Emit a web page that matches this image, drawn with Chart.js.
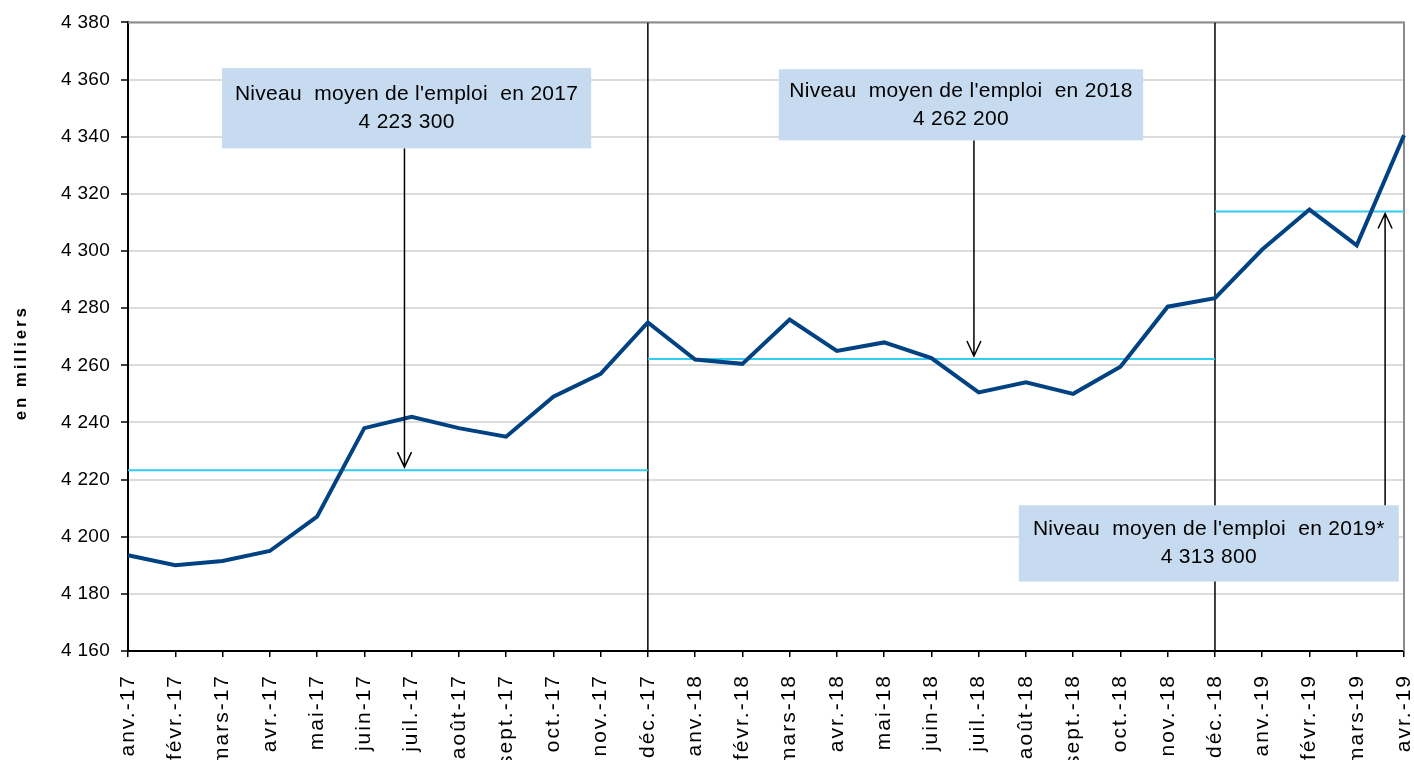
<!DOCTYPE html>
<html lang="fr">
<head>
<meta charset="utf-8">
<title>Niveau moyen de l'emploi</title>
<script src="https://cdn.jsdelivr.net/npm/chart.js@4.4.1/dist/chart.umd.min.js"></script>
<style>
    html, body { margin: 0; padding: 0; background: #fff; overflow: hidden; }
    #wrap { width: 1414px; height: 760px; }
</style>
</head>
<body>
<div id="wrap"><canvas id="emploiChart" width="1414" height="760"></canvas></div>
<script>
// Data
const months = [
    'janv.-17', 'févr.-17', 'mars-17', 'avr.-17', 'mai-17', 'juin-17', 'juil.-17',
    'août-17', 'sept.-17', 'oct.-17', 'nov.-17', 'déc.-17',
    'janv.-18', 'févr.-18', 'mars-18', 'avr.-18', 'mai-18', 'juin-18', 'juil.-18',
    'août-18', 'sept.-18', 'oct.-18', 'nov.-18', 'déc.-18',
    'janv.-19', 'févr.-19', 'mars-19', 'avr.-19'
];
const emploi = [
    4193.5, 4190, 4191.5, 4195, 4207, 4238, 4242, 4238, 4235, 4249, 4257, 4275,
    4262, 4260.5, 4276, 4265, 4268, 4262.5, 4250.5, 4254, 4250, 4259.5, 4280.5, 4283.5,
    4300.5, 4314.5, 4302, 4340.5
];
const averages = [4223.3, 4262.2, 4313.8];
const averageFrom = ['janv.-17', 'déc.-17', 'déc.-18'];
const averageTo = ['déc.-17', 'déc.-18', 'avr.-19'];
const averageTexts = [
    ["Niveau  moyen de l'emploi  en 2017", '4 223 300'],
    ["Niveau  moyen de l'emploi  en 2018", '4 262 200'],
    ["Niveau  moyen de l'emploi  en 2019*", '4 313 800']
];
const yearEnds = ['déc.-17', 'déc.-18'];
const yMin = 4160;
const yMax = 4380;
const yStep = 20;

// Label boxes (category index for x, axis value for y) and arrow column
const notes = [
    { left: 1.99, right: 9.8, top: 4364, bottom: 4335.9, arrowAt: 5.85 },
    { left: 13.77, right: 21.48, top: 4363.6, bottom: 4338.7, arrowAt: 17.9 },
    { left: 18.85, right: 26.89, top: 4211, bottom: 4184.3, arrowAt: 26.6 }
];

const FONT = '"Liberation Sans", Arial, sans-serif';

function averageData(k) {
    const a = months.indexOf(averageFrom[k]);
    const b = months.indexOf(averageTo[k]);
    return months.map((m, i) => (i >= a && i <= b ? averages[k] : null));
}

// Excel-like wide letter spacing on axis text
function withSpacing(scale, method, spacing, dy) {
    if (scale['_sp_' + method]) return;
    const orig = scale[method];
    scale[method] = function (...args) {
        const ctx = this.ctx;
        ctx.save();
        ctx.letterSpacing = spacing;
        if (dy) ctx.translate(0, dy);
        orig.apply(this, args);
        ctx.restore();
    };
    scale['_sp_' + method] = true;
}

const spacingPlugin = {
    id: 'spacing',
    beforeDraw(chart) {
        withSpacing(chart.scales.x, 'drawLabels', '2px');
        withSpacing(chart.scales.y, 'drawLabels', '0.3px');
        withSpacing(chart.scales.y, 'drawTitle', '2.8px', 26);
    }
};

const framePlugin = {
    id: 'frame',
    beforeDatasetsDraw(chart) {
        const { ctx, chartArea: a } = chart;
        ctx.save();
        ctx.strokeStyle = '#8c8c8c';
        ctx.lineWidth = 2;
        ctx.beginPath();
        ctx.moveTo(a.left, a.top);
        ctx.lineTo(a.right, a.top);
        ctx.lineTo(a.right, a.bottom);
        ctx.stroke();
        ctx.restore();
    }
};

function drawArrow(ctx, x, y1, y2) {
    const dir = y2 > y1 ? 1 : -1;
    ctx.beginPath();
    ctx.moveTo(x, y1);
    ctx.lineTo(x, y2);
    ctx.moveTo(x - 7, y2 - dir * 15);
    ctx.lineTo(x, y2);
    ctx.lineTo(x + 7, y2 - dir * 15);
    ctx.stroke();
}

const notesPlugin = {
    id: 'notes',
    afterDatasetsDraw(chart) {
        const { ctx, scales: { x, y } } = chart;
        ctx.save();
        notes.forEach((n, k) => {
            const l = x.getPixelForValue(n.left);
            const r = x.getPixelForValue(n.right);
            const t = y.getPixelForValue(n.top);
            const b = y.getPixelForValue(n.bottom);
            ctx.fillStyle = '#c6dbef';
            ctx.fillRect(l, t, r - l, b - t);

            ctx.fillStyle = '#000';
            ctx.font = '21px ' + FONT;
            ctx.letterSpacing = '0.3px';
            ctx.textAlign = 'center';
            ctx.textBaseline = 'middle';
            const cx = (l + r) / 2;
            const cy = (t + b) / 2;
            ctx.fillText(averageTexts[k][0], cx, cy - 14);
            ctx.fillText(averageTexts[k][1], cx, cy + 14);
            ctx.letterSpacing = '0px';

            const ax = x.getPixelForValue(n.arrowAt);
            const target = y.getPixelForValue(averages[k]);
            const start = target > b ? b : t;
            ctx.strokeStyle = '#000';
            ctx.lineWidth = 1.5;
            drawArrow(ctx, ax, start, target + (target > b ? -3 : 2));
        });
        ctx.restore();
    }
};

const datasets = [
    {
        label: 'Emploi',
        data: emploi,
        borderColor: '#004282',
        borderWidth: 4,
        pointRadius: 0,
        tension: 0
    },
    ...averages.map((v, k) => ({
        label: 'Moyenne ' + (2017 + k),
        data: averageData(k),
        borderColor: '#33ccf5',
        borderWidth: 2,
        pointRadius: 0,
        spanGaps: false
    })),
    ...yearEnds.map(m => ({
        label: m,
        data: [{ x: m, y: yMin }, { x: m, y: yMax }],
        borderColor: '#000',
        borderWidth: 1.5,
        pointRadius: 0
    }))
];

new Chart(document.getElementById('emploiChart'), {
    type: 'line',
    data: { labels: months, datasets },
    plugins: [spacingPlugin, framePlugin, notesPlugin],
    options: {
        responsive: false,
        animation: false,
        layout: { padding: { top: 22, right: 10, left: 0, bottom: 0 } },
        plugins: {
            legend: { display: false },
            tooltip: { enabled: false }
        },
        scales: {
            x: {
                offset: false,
                afterFit(scale) {
                    scale.height = 109;
                    scale.paddingLeft = 0;
                    scale.paddingRight = 0;
                },
                grid: {
                    drawOnChartArea: false,
                    color: '#000',
                    tickLength: 6,
                    lineWidth: 1.5
                },
                border: { color: '#000', width: 2 },
                ticks: {
                    autoSkip: false,
                    minRotation: 90,
                    maxRotation: 90,
                    padding: 17,
                    color: '#000',
                    font: { family: FONT, size: 21 }
                }
            },
            y: {
                min: yMin,
                max: yMax,
                afterFit(scale) { scale.width = 128; },
                grid: {
                    color: '#dcdcdc',
                    lineWidth: 2,
                    tickColor: '#000',
                    tickWidth: 1.5,
                    tickLength: 7
                },
                border: { color: '#000', width: 2 },
                title: {
                    display: true,
                    text: 'en milliers',
                    color: '#000',
                    font: { family: FONT, size: 17, weight: 'bold' },
                    padding: { top: 11, bottom: 0 }
                },
                ticks: {
                    stepSize: yStep,
                    padding: 11,
                    color: '#000',
                    font: { family: FONT, size: 19 },
                    callback: v => String(v).replace(/\B(?=(\d{3})+(?!\d))/g, ' ')
                }
            }
        }
    }
});
</script>
</body>
</html>
